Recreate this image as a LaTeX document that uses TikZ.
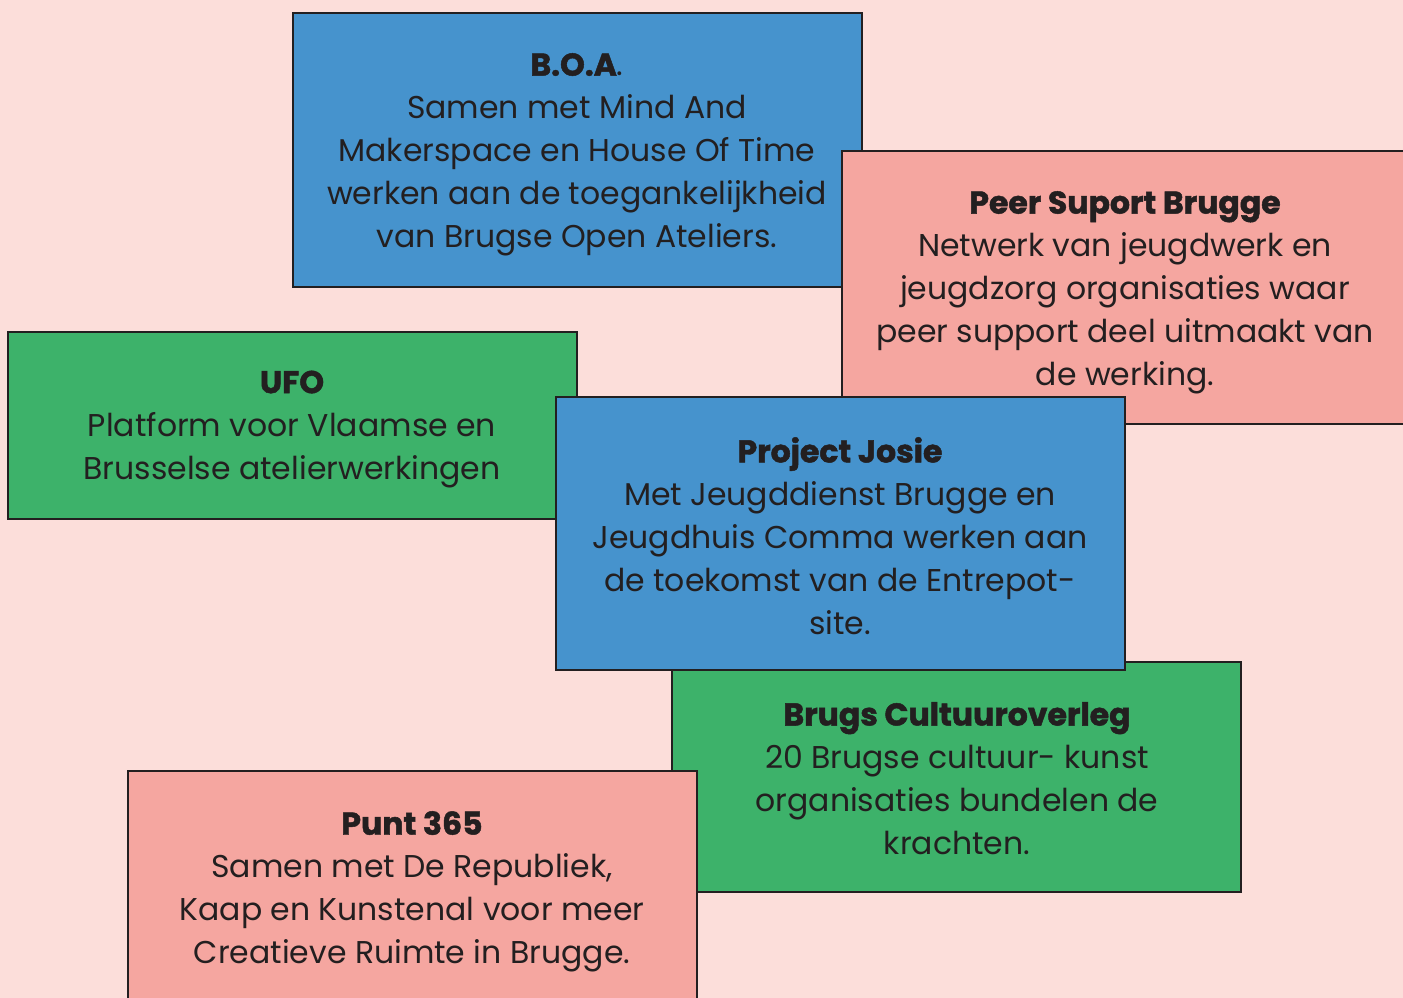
\documentclass[tikz,border=0pt]{standalone}
\usepackage{fontspec}
\setmainfont{Poppins}[BoldFeatures={FakeBold=1.5}]
\definecolor{bg}{HTML}{FCDEDA}
\definecolor{cblue}{HTML}{4693CD}
\definecolor{cgreen}{HTML}{3DB26A}
\definecolor{cpink}{HTML}{F5A6A0}
\definecolor{ink}{HTML}{231F20}
\begin{document}
\begin{tikzpicture}[x=1pt,y=-1pt,
  card/.style={draw=ink,line width=2.8pt},
  txt/.style={text=ink,align=center,font=\fontsize{31.5}{43}\selectfont,inner sep=0pt,anchor=north}]
\fill[bg] (0,0) rectangle (1403,998);
\useasboundingbox (0,0) rectangle (1403,998);
% B.O.A.
\draw[card,fill=cblue] (293,13) rectangle (862,287);
\node[txt] (boa) at (577,53) {\textbf{B.O.A}.\\Samen met Mind And\\Makerspace en House Of Time\\werken aan de toegankelijkheid\\van Brugse Open Ateliers.};
% Peer
\draw[card,fill=cpink] (842,151) rectangle (1412,424);
\node[txt] (peer) at (1125,191) {\textbf{Peer Suport Brugge}\\Netwerk van jeugdwerk en\\jeugdzorg organisaties waar\\peer support deel uitmaakt van\\de werking.};
% UFO
\draw[card,fill=cgreen] (8,332) rectangle (577,519);
\node[txt] (ufo) at (292,370.5) {\textbf{UFO}\\Platform voor Vlaamse en\\Brusselse atelierwerkingen};
% Brugs
\draw[card,fill=cgreen] (672,662) rectangle (1241,892);
\node[txt] (brugs) at (957,702) {\textbf{Brugs Cultuuroverleg}\\20 Brugse cultuur- kunst\\organisaties bundelen de\\krachten.};
% Josie
\draw[card,fill=cblue] (556,397) rectangle (1125,670);
\node[txt] (josie) at (840,437) {\textbf{Project Josie}\\Met Jeugddienst Brugge en\\Jeugdhuis Comma werken aan\\de toekomst van de Entrepot-\\site.};
% Punt
\draw[card,fill=cpink] (128,771) rectangle (697,1012);
\node[txt] (punt) at (412,811) {\textbf{Punt 365}\\Samen met De Republiek,\\Kaap en Kunstenal voor meer\\Creatieve Ruimte in Brugge.};
\end{tikzpicture}
\end{document}
